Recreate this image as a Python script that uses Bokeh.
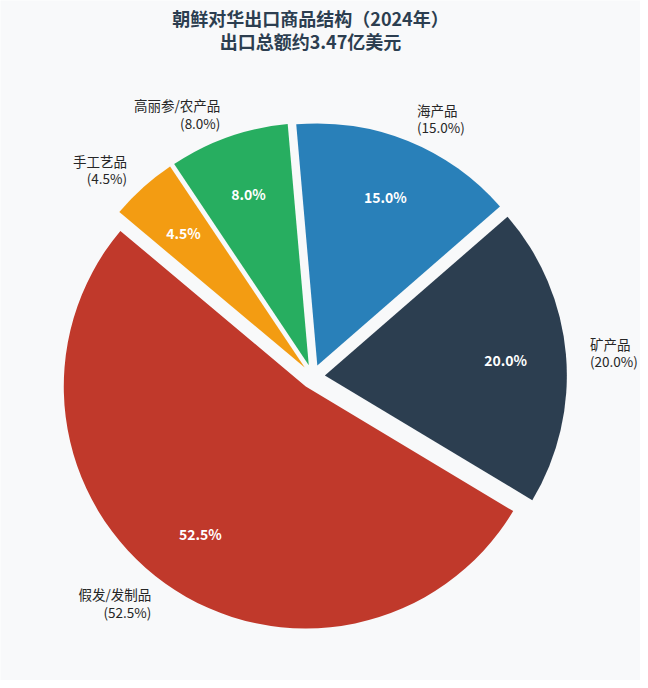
import numpy as np
from bokeh.plotting import figure
from bokeh.models import Range1d, Label, ColumnDataSource
from bokeh.embed import file_html
from bokeh.resources import INLINE
from bokeh.core.properties import value

# ---- data ----
categories = ["假发/发制品", "矿产品", "海产品", "高丽参/农产品", "手工艺品"]
shares = [52.5, 20.0, 15.0, 8.0, 4.5]
title_lines = ["朝鲜对华出口商品结构（2024年）", "出口总额约3.47亿美元"]

# ---- style / layout ----
palette = ["#c0392b", "#2c3e50", "#2980b9", "#27ae60", "#f39c12"]
BG = "#f8f9fa"
FONT = "Noto Sans CJK SC"
W, H = 640, 680
PAGE_H = 688
CX, CY = 312.3, PAGE_H - 376.1   # pie centre (data units = px)
R = 242.0
EXPLODE = 0.05
START = 140.0
PCT_DIST = 0.75
LAB_DIST = 1.1
LINE_GAP = 8.7

vals = np.array(shares, dtype=float)
frac = vals / vals.sum()
ends = START + 360.0 * np.cumsum(frac)
starts = ends - 360.0 * frac
mids = np.deg2rad((starts + ends) / 2.0)
cxs = CX + EXPLODE * R * np.cos(mids)
cys = CY + EXPLODE * R * np.sin(mids)

p = figure(width=W, height=H, output_backend="svg", toolbar_location=None,
           x_range=Range1d(0, W), y_range=Range1d(PAGE_H - H, PAGE_H),
           min_border=0, background_fill_color=BG, border_fill_color=BG)
p.axis.visible = False
p.grid.visible = False
p.outline_line_color = None

src = ColumnDataSource(dict(x=cxs, y=cys, s=np.deg2rad(starts), e=np.deg2rad(ends),
                            color=palette, name=categories))
p.wedge(x="x", y="y", radius=R, start_angle="s", end_angle="e",
        fill_color="color", line_color=None, source=src)

# percentage inside
pct_txt = [f"{v:.1f}%" for v in vals]
p.text(x=cxs + PCT_DIST * R * np.cos(mids), y=cys + PCT_DIST * R * np.sin(mids),
       text=pct_txt, text_align="center", text_baseline="middle",
       text_color="white", text_font=value(FONT), text_font_style="bold",
       text_font_size="14px")

# outside labels
lx = cxs + LAB_DIST * R * np.cos(mids)
ly = cys + LAB_DIST * R * np.sin(mids)
for side in ("left", "right"):
    idx = [i for i in range(len(vals)) if (np.cos(mids[i]) > 0) == (side == "left")]
    if not idx:
        continue
    xs = [lx[i] for i in idx]
    p.text(x=xs, y=[ly[i] + LINE_GAP for i in idx], text=[categories[i] for i in idx],
           text_align=side, text_baseline="middle", text_color="#262626",
           text_font=value(FONT), text_font_size="13.5px")
    p.text(x=xs, y=[ly[i] - LINE_GAP for i in idx], text=[f"({vals[i]:.1f}%)" for i in idx],
           text_align=side, text_baseline="middle", text_color="#262626",
           text_font=value(FONT), text_font_size="13.5px")

# title
for j, t in enumerate(title_lines):
    p.add_layout(Label(x=310, y=PAGE_H - 17 - 23 * j, text=t, text_align="center",
                       text_baseline="middle", text_font=FONT, text_font_style="bold",
                       text_font_size="18px", text_color="#2c3e50"))

open("out.html", "w").write(file_html(p, INLINE))
